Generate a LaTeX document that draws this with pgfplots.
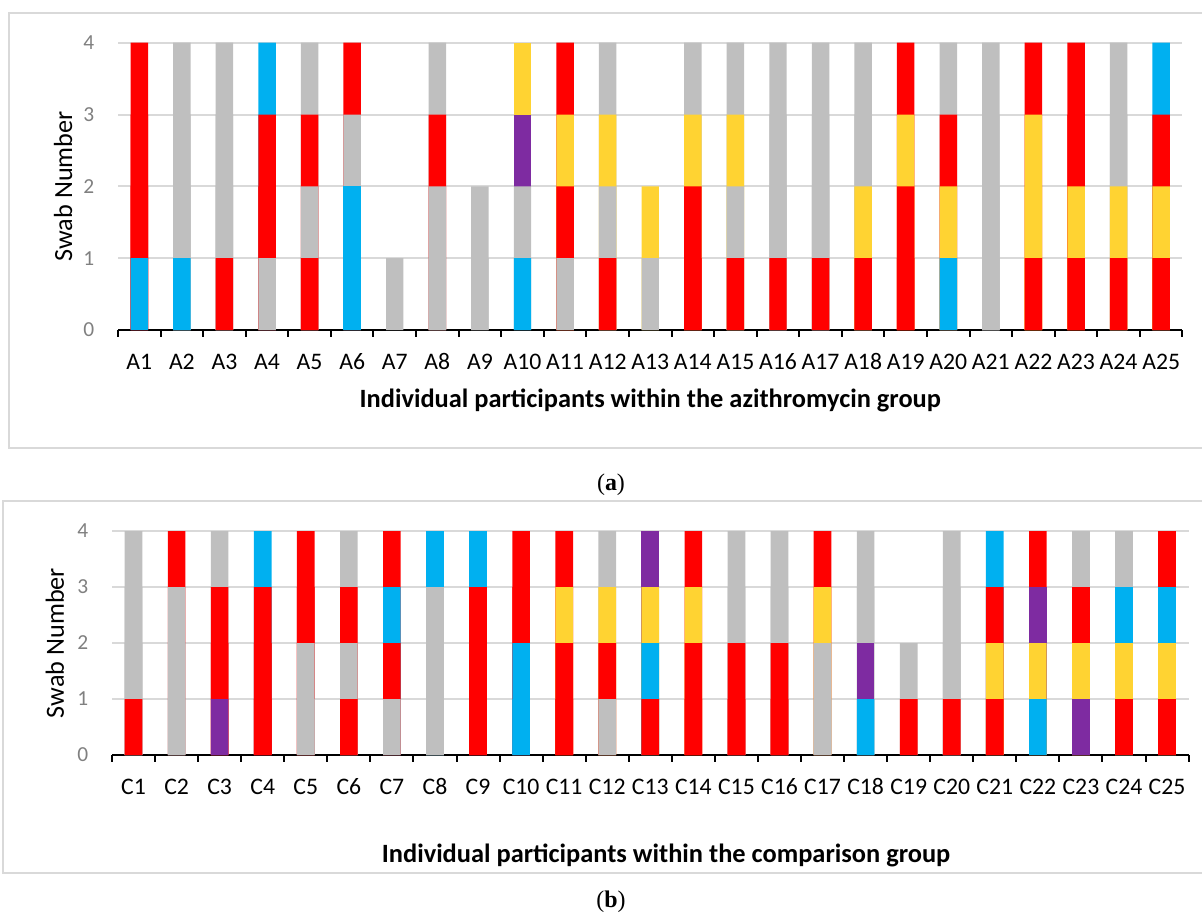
\documentclass[border=0pt]{standalone}
\usepackage{pgfplots}
\pgfplotsset{compat=1.18}
\usepackage{pgfplotstable}
\usepackage{fontspec}
\setmainfont{Carlito}
\newfontfamily\capfont{Liberation Serif}
\definecolor{cblue}{HTML}{00B0F0}
\definecolor{cgray}{HTML}{BFBFBF}
\definecolor{cred}{HTML}{FF0000}
\definecolor{cyel}{HTML}{FFD332}
\definecolor{cpur}{HTML}{7E2BA1}
\definecolor{gridc}{HTML}{D9D9D9}
\definecolor{framec}{HTML}{D9D9D9}
\definecolor{tickc}{HTML}{808080}

% colour codes of the swab segments, bottom (s1) to top (s4):
% 0 none, 1 blue, 2 grey, 3 red, 4 yellow, 5 purple
\pgfplotstableread{
x s1 s2 s3 s4
1 1 3 3 3
2 1 2 2 2
3 3 2 2 2
4 2 3 3 1
5 3 2 3 2
6 1 1 2 3
7 2 0 0 0
8 2 2 3 2
9 2 2 0 0
10 1 2 5 4
11 2 3 4 3
12 3 2 4 2
13 2 4 0 0
14 3 3 4 2
15 3 2 4 2
16 3 2 2 2
17 3 2 2 2
18 3 4 2 2
19 3 3 4 3
20 1 4 3 2
21 2 2 2 2
22 3 4 4 3
23 3 4 3 3
24 3 4 2 2
25 3 4 3 1
}\tabA

\pgfplotstableread{
x s1 s2 s3 s4
1 3 2 2 2
2 2 2 2 3
3 5 3 3 2
4 3 3 3 1
5 2 2 3 3
6 3 2 3 2
7 2 3 1 3
8 2 2 2 1
9 3 3 3 1
10 1 1 3 3
11 3 3 4 3
12 2 3 4 2
13 3 1 4 5
14 3 3 4 3
15 3 3 2 2
16 3 3 2 2
17 2 2 4 3
18 1 5 2 2
19 3 2 0 0
20 3 2 2 2
21 3 4 3 1
22 1 4 5 3
23 5 4 3 2
24 3 4 1 2
25 3 4 1 3
}\tabC

% #1 table, #2 layer (segment), #3 colour code, #4 colour
\newcommand\lay[4]{\addplot[ybar, bar width=0.41, bar shift=0pt, fill=#4, draw=none,
  restrict y to domain=0.5:5, unbounded coords=discard]
  table[x=x, y expr={\thisrow{s#2}==#3 ? #2 : -1}] {#1};}
\newcommand\layer[2]{\lay{#1}{#2}{1}{cblue}\lay{#1}{#2}{2}{cgray}\lay{#1}{#2}{3}{cred}\lay{#1}{#2}{4}{cyel}\lay{#1}{#2}{5}{cpur}}
\newcommand\layers[1]{\layer{#1}{4}\layer{#1}{3}\layer{#1}{2}\layer{#1}{1}}

\pgfplotsset{panel/.style={
  scale only axis, xmin=0.5, xmax=25.5, ymin=0, ymax=4,
  axis x line*=bottom, axis y line*=left,
  y axis line style={draw=none},
  x axis line style={black, line width=2bp},
  xtick={1,...,25}, ytick={0,1,2,3,4}, yticklabels={0,1,2,3,4},
  minor xtick={0.5,1.5,...,25.5},
  major tick length=0pt, minor tick length=6.7bp, tick align=outside,
  minor tick style={black, line width=2bp},
  ymajorgrids, grid style={gridc, line width=2bp},
  tick label style={inner sep=0pt},
  xticklabel style={font=\fontsize{23.8}{28}\selectfont, anchor=base, yshift=-39.3bp, black},
  yticklabel style={font=\fontsize{21.5}{26}\selectfont, anchor=east, xshift=-23.5bp, tickc},
  /pgf/number format/assume math mode=true,
  xlabel style={font=\fontsize{26.5}{32}\selectfont\bfseries, anchor=base, black},
  ylabel style={font=\fontsize{26.3}{32}\selectfont, anchor=base, black},
}}

\begin{document}
\begin{tikzpicture}
\path[use as bounding box] (0,0) rectangle (1202bp,-915bp);
\draw[framec, line width=2bp] (1220bp,-13.3bp) -| (9bp,-448.3bp) -- (1220bp,-448.3bp);
\draw[framec, line width=2bp] (1220bp,-501bp) -| (3.3bp,-873.3bp) -- (1220bp,-873.3bp);

\begin{axis}[panel, at={(118bp,-330bp)}, anchor=south west,
  width=1064.5bp, height=287.3bp,
  xticklabels={A1,A2,A3,A4,A5,A6,A7,A8,A9,A10,A11,A12,A13,A14,A15,A16,A17,A18,A19,A20,A21,A22,A23,A24,A25},
  xlabel={Individual participants within the azithromycin group},
  ylabel={Swab Number},
  xlabel style={at={(axis description cs:0.5,-0.268)}},
  ylabel style={at={(axis description cs:-0.0432,0.5)}},
]
\layers{\tabA}
\end{axis}
\node[font=\capfont\fontsize{24}{28}\selectfont] at (611bp,-485bp) {(\textbf{a})};

\begin{axis}[panel, at={(112bp,-755bp)}, anchor=south west,
  width=1076.6bp, height=224bp,
  xticklabels={C1,C2,C3,C4,C5,C6,C7,C8,C9,C10,C11,C12,C13,C14,C15,C16,C17,C18,C19,C20,C21,C22,C23,C24,C25},
  xlabel={Individual participants within the comparison group},
  ylabel={Swab Number},
  xlabel style={at={(axis description cs:0.5146,-0.4808)}},
  ylabel style={at={(axis description cs:-0.0446,0.5)}},
]
\layers{\tabC}
\end{axis}
\node[font=\capfont\fontsize{24}{28}\selectfont] at (611bp,-902bp) {(\textbf{b})};
\end{tikzpicture}
\end{document}
